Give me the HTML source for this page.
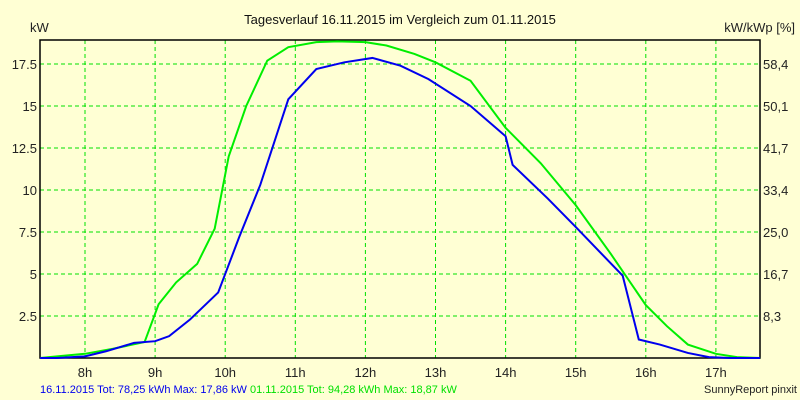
<!DOCTYPE html>
<html><head><meta charset="utf-8"><style>
body{margin:0;background:#ffffd4;}
svg{display:block;font-family:"Liberation Sans",sans-serif;}
</style></head><body>
<svg width="800" height="400" viewBox="0 0 800 400">
<rect width="800" height="400" fill="#ffffd4"/>
<g id="grid"></g>
<rect x="40" y="40" width="720" height="318" fill="none" stroke="#000" stroke-width="1.5"/>
<g id="series"></g>
<g id="labels" font-size="13" fill="#222"></g>
<text x="400" y="24" text-anchor="middle" font-size="13" fill="#111">Tagesverlauf 16.11.2015 im Vergleich zum 01.11.2015</text>
<text x="30" y="32" font-size="13" fill="#222">kW</text>
<text x="795" y="32" text-anchor="end" font-size="13" fill="#222">kW/kWp [%]</text>
<text x="40" y="393" font-size="11"><tspan fill="#0000ee">16.11.2015 Tot: 78,25 kWh Max: 17,86 kW</tspan><tspan fill="#00e000"> 01.11.2015 Tot: 94,28 kWh Max: 18,87 kW</tspan></text>
<text x="797" y="393" text-anchor="end" font-size="11" fill="#222">SunnyReport pinxit</text>
</svg>
<script>
const yTicks=[2.5,5,7.5,10,12.5,15,17.5];
const yTickLabels=["2.5","5","7.5","10","12.5","15","17.5"];
const rightTickLabels=["8,3","16,7","25,0","33,4","41,7","50,1","58,4"];
const hourTicks=[8,9,10,11,12,13,14,15,16,17];
const greenHours=[7.36,7.6,8,8.4,8.85,9.05,9.3,9.6,9.85,10.05,10.3,10.6,10.9,11.3,11.6,12,12.3,12.7,13,13.5,14,14.5,15,15.5,16,16.3,16.6,17,17.3,17.63];
const greenValues=[0,0.1,0.25,0.55,0.95,3.2,4.5,5.6,7.7,12,15,17.7,18.5,18.8,18.85,18.8,18.6,18.1,17.6,16.5,13.7,11.6,9.1,6.2,3.15,1.9,0.8,0.25,0.05,0];
const blueHours=[7.36,7.6,8,8.3,8.7,9,9.2,9.5,9.75,9.9,10.2,10.5,10.9,11.3,11.7,12.1,12.5,12.9,13.5,14,14.1,14.6,15,15.67,15.9,16.2,16.6,16.9,17.2,17.63];
const blueValues=[0,0,0.1,0.4,0.9,1.0,1.3,2.3,3.3,3.9,7.2,10.3,15.4,17.2,17.6,17.86,17.4,16.6,15,13.2,11.5,9.5,7.8,4.9,1.1,0.8,0.3,0.05,0,0];
const X=h=>85+(h-8)*70.1, Y=v=>358-v*16.8;
const ns="http://www.w3.org/2000/svg";
const grid=document.getElementById('grid'),lab=document.getElementById('labels'),ser=document.getElementById('series');
function mk(tag,attrs,parent){const e=document.createElementNS(ns,tag);for(const k in attrs)e.setAttribute(k,attrs[k]);parent.appendChild(e);return e;}
yTicks.forEach((v,i)=>{
 const l=mk('line',{x1:40,x2:760,y1:Y(v),y2:Y(v),stroke:'#00e000','stroke-dasharray':'4,3'},grid);
 
 
 const t=mk('text',{x:37,y:Y(v)+5,'text-anchor':'end'},lab);t.textContent=yTickLabels[i];
 
 
 const r=mk('text',{x:763,y:Y(v)+5},lab);r.textContent=rightTickLabels[i];
 
 
});
hourTicks.forEach(h=>{
 const l=mk('line',{x1:X(h),x2:X(h),y1:40,y2:358,stroke:'#00e000','stroke-dasharray':'4,3'},grid);
 
 
 const t=mk('text',{x:X(h),y:377,'text-anchor':'middle'},lab);t.textContent=h+'h';
 
 
});
function line(hs,vs,color,name){
 const p=mk('polyline',{points:hs.map((h,i)=>X(h)+','+Y(vs[i])).join(' '),fill:'none',stroke:color,'stroke-width':2},ser);
 
 
}
line(greenHours,greenValues,'#00ee00','series-01-11-2015');
line(blueHours,blueValues,'#0000ee','series-16-11-2015');
</script>
</body></html>
